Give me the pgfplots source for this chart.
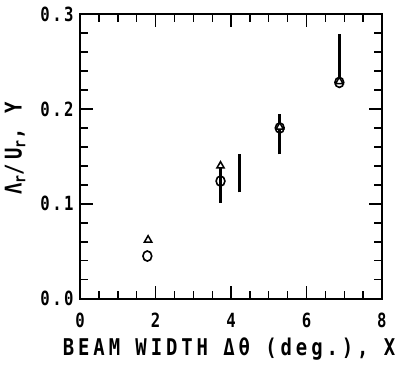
\documentclass[border=0pt]{standalone}
\usepackage{pgfplots}
\pgfplotsset{compat=1.18}
\usepackage{fontspec}
\setmainfont{DejaVu Sans Mono}
\newfontfamily\tickfont[FakeStretch=0.8, LetterSpace=13]{DejaVu Sans Mono Bold}
\newfontfamily\labfont[FakeStretch=0.82, LetterSpace=17]{DejaVu Sans Mono Bold}

\begin{document}
\begin{tikzpicture}
\begin{axis}[
  scale only axis,
  width=301pt, height=284pt,
  xmin=0, xmax=8, ymin=0, ymax=0.3,
  xtick={0,2,4,6,8},
  ytick={0,0.1,0.2,0.3},
  minor x tick num=3,
  minor y tick num=4,
  tick align=inside,
  major tick length=13pt,
  minor tick length=8pt,
  axis line style={line width=1.6pt},
  every tick/.style={line width=1.4pt, black},
  /pgf/number format/assume math mode=true,
  tick label style={font=\tickfont\fontsize{19.5}{21}\selectfont},
  xticklabel style={yshift=-11pt},
  yticklabel style={xshift=-3pt, /pgf/number format/.cd, fixed, fixed zerofill, precision=1},
  xlabel={BEAM WIDTH Δθ (deg.), X},
  ylabel={Λ\textsubscript{r}/U\textsubscript{r}, Y},
  label style={font=\labfont\fontsize{23}{25}\selectfont},
  xlabel style={yshift=-3pt, xshift=-2pt},
  ylabel style={yshift=8pt, xshift=8pt},
  clip=false,
]
% error bars
\addplot[black, line width=2.6pt] coordinates {(3.72,0.101) (3.72,0.140)};
\addplot[black, line width=2.6pt] coordinates {(4.23,0.112) (4.23,0.153)};
\addplot[black, line width=2.6pt] coordinates {(5.29,0.152) (5.29,0.195)};
\addplot[black, line width=2.6pt] coordinates {(6.87,0.228) (6.87,0.279)};
% triangles
\addplot[only marks, mark=triangle*, mark size=4.2pt,
  mark options={fill=white, draw=black, line width=1.5pt}]
  coordinates {(1.80,0.062) (3.72,0.140) (5.29,0.181) (6.87,0.229)};
% circles
\addplot[only marks, mark=o, mark size=4.4pt,
  mark options={draw=black, line width=1.6pt, yscale=1.15}]
  coordinates {(1.78,0.045) (3.72,0.124) (5.29,0.180) (6.87,0.228)};
\end{axis}
\useasboundingbox (-80pt,-66pt) rectangle (318pt,298pt);
\end{tikzpicture}
\end{document}
